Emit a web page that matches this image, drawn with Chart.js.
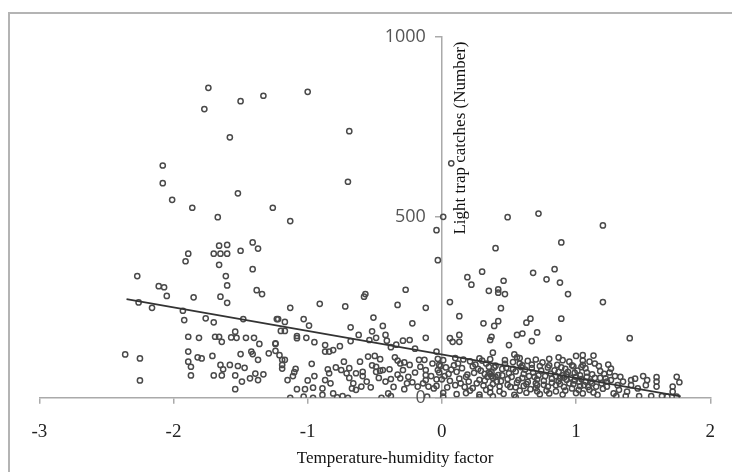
<!DOCTYPE html>
<html><head><meta charset="utf-8">
<script src="https://cdn.jsdelivr.net/npm/chart.js@4.4.1/dist/chart.umd.min.js"></script>
<style>
html,body{margin:0;padding:0;background:#fff;}
#wrap{position:relative;width:732px;height:472px;overflow:hidden;}
#frame{position:absolute;left:8px;top:12px;width:760px;height:500px;border-left:2px solid #b4b4b4;border-top:2px solid #b4b4b4;pointer-events:none;}
canvas{position:absolute;left:0;top:0;}
</style></head><body>
<div id="wrap"><div id="frame"></div><canvas id="c" width="732" height="472"></canvas></div>
<script>
const xTitle = 'Temperature-humidity factor';
const yTitle = 'Light trap catches (Number)';
const xTicks = [-3, -2, -1, 0, 1, 2];
const yTicks = [0, 500, 1000];
const trendX = [-2.35, 1.78];
const trendY = [273, 4];

const topPoints = [[-1.74,858],[-1.77,799],[-1.50,821],[-1.33,836],[-1.00,847],[-1.58,721],[-0.69,738],[-2.08,643],[-2.08,594],[-2.01,548],[-1.86,526],[-1.67,500],[-1.52,566],[-1.26,526],[-1.13,489],[-0.70,598],[0.07,649],[0.01,501],[-0.04,464],[0.49,500],[0.72,510],[1.20,477],[-0.03,381],[0.40,414],[0.89,430],[0.30,349],[0.68,346],[0.84,356]];

const leftPoints = [[-1.66,421],[-1.60,423],[-1.41,430],[-1.37,413],[-1.50,407],[-1.70,399],[-1.65,399],[-1.60,399],[-1.89,399],[-1.91,378],[-1.66,368],[-1.41,356],[-2.27,337],[-1.61,337],
[-1.60,311],[-2.11,309],[-2.07,306],[-1.38,298],[-1.34,287],[-2.05,282],[-1.85,278],[-1.65,280],[-1.60,263],[-2.26,264],[-2.16,249],[-1.93,241],[-1.92,215],[-1.76,220],[-1.70,209],[-1.48,218],[-1.23,218],[-1.89,169],[-1.81,166],[-1.69,169],[-1.66,169],[-1.64,155],[-1.54,183],[-1.57,167],[-1.53,166],[-1.46,166],[-1.40,166],[-1.36,149],[-1.24,149],[-1.89,128],[-2.36,120],[-2.25,109],[-1.82,112],[-1.79,109],[-1.71,116],[-1.50,121],[-1.42,128],[-1.41,121],[-1.29,123],[-1.24,130],[-1.37,105],[-1.89,100],[-1.87,86],[-1.65,91],[-1.58,91],[-1.63,79],[-1.52,88],[-1.47,83],[-1.87,62],[-1.70,62],[-1.64,62],[-1.54,62],[-1.39,67],[-1.33,65],[-1.43,54],[-1.37,49],[-1.49,45],[-2.25,48],[-1.54,24]];

const middlePoints = [[-1.13,249],[-0.91,260],[-0.72,253],[-0.57,287],[-0.58,280],[-0.27,299],[-0.33,257],[-0.12,249],[-1.22,218],[-1.17,210],[-1.03,218],[-0.99,200],[-1.20,185],[-1.17,185],[-1.08,171],[-1.08,165],[-1.01,166],[-0.95,154],[-0.87,146],[-0.87,128],[-0.84,128],[-0.81,132],[-0.76,143],[-0.68,195],[-0.68,157],[-0.62,174],[-0.54,160],[-0.52,184],[-0.51,222],[-0.49,166],[-0.44,199],[-0.42,174],[-0.41,158],[-0.38,140],[-0.34,147],[-0.29,158],[-0.24,160],[-0.22,206],[-0.12,166],[-0.20,136],[-0.13,105],[-1.24,151],[-1.21,118],[-1.19,105],[-1.17,105],[-1.19,91],[-1.19,81],[-1.09,80],[-1.10,71],[-1.11,60],[-1.15,49],[-0.97,94],[-0.95,60],[-1.00,48],[-1.08,24],[-1.02,24],[-0.96,28],[-1.03,3],[-1.13,0],[-0.96,0],[-0.89,8],[-0.89,26],[-0.87,49],[-0.83,40],[-0.84,68],[-0.85,79],[-0.79,84],[-0.75,77],[-0.69,82],[-0.64,68],[-0.59,60],[-0.59,72],[-0.67,26],[-0.64,22],[-0.60,31],[-0.53,29],[-0.81,12],[-0.78,1],[-0.74,5],[-0.70,0],[-0.73,100],[-0.69,55],[-0.71,68],[-0.55,114],[-0.50,116],[-0.46,107],[-0.49,86],[-0.49,72],[-0.46,75],[-0.44,77],[-0.39,79],[-0.38,52],[-0.35,112],[-0.33,103],[-0.31,95],[-0.28,98],[-0.24,91],[-0.29,77],[-0.31,54],[-0.25,58],[-0.22,43],[-0.28,24],[-0.40,12],[-0.38,5],[-0.45,0],[-0.17,105],[-0.16,86],[-0.12,77],[-0.12,63],[-0.12,49],[-0.18,31],[-0.10,31],[-0.06,26],[-0.04,51],[-0.03,77],[-0.02,91],[-0.11,3],[-0.04,128]];

const rightPoints = [[0.19,334],[0.22,313],[0.35,296],[0.42,300],[0.42,291],[0.47,287],[0.46,324],[0.78,328],[0.88,319],[0.94,287],[0.06,265],[0.13,226],[0.44,248],[0.42,212],[0.39,199],[0.31,206],[0.63,208],[0.66,219],[0.89,219],[0.71,181],[0.56,174],[0.60,178],[0.67,157],[0.87,165],[0.06,165],[0.13,174],[0.08,155],[0.13,155],[0.36,160],[0.37,169],[0.50,146],[0.54,120],[0.56,112],[0.38,125],[0.87,112],[1.00,116],[1.05,118],
[-0.03,108],[0.01,104],[0.10,110],[0.16,106],[0.21,101],[0.28,109],[0.30,103],[0.36,107],[0.47,104],[0.53,99],[0.58,110],[0.64,102],[0.70,106],[0.75,98],[0.80,108],[0.90,104],[0.95,100],[1.05,103],
[-0.01,88],[0.03,84],[0.09,90],[0.15,82],[0.23,87],[0.27,80],[0.35,86],[0.40,89],[0.48,83],[0.59,85],[0.60,90],[0.67,82],[0.73,88],[0.79,84],[0.86,91],[0.92,80],[0.98,87],[1.04,85],
[-0.02,70],[0.05,66],[0.11,72],[0.19,64],[0.24,69],[0.32,66],[0.37,71],[0.42,63],[0.50,68],[0.55,73],[0.61,66],[0.68,70],[0.72,62],[0.81,67],[0.87,72],[0.93,65],[0.99,69],
[0.00,51],[0.06,47],[0.13,53],[0.20,45],[0.28,50],[0.32,48],[0.38,55],[0.44,46],[0.49,52],[0.57,49],[0.64,44],[0.71,51],[0.76,47],[0.82,53],[0.87,46],[0.93,50],[0.99,48],[1.04,52],
[-0.04,33],[0.04,29],[0.10,35],[0.17,30],[0.23,27],[0.31,34],[0.36,28],[0.43,32],[0.49,36],[0.55,29],[0.61,33],[0.70,27],[0.79,31],[0.85,35],[0.91,30],[0.97,26],[1.03,32],
[0.01,14],[0.11,10],[0.18,13],[0.28,9],[0.36,15],[0.46,11],[0.54,8],[0.63,14],[0.73,10],[0.80,12],[0.90,9],[1.00,13],
[0.01,3],[0.28,2],[0.38,4],[0.55,2],
[0.35,70],[0.36,66],[0.37,60],[0.40,58],[0.45,80],[0.70,40],[0.71,35],[0.85,60],[0.88,55],[0.90,62],[0.95,40],[1.00,58],[1.02,45],[0.33,95],[0.58,95],[0.65,60]];

const farRightPoints = [[1.20,265],[1.40,165],[1.13,117],[1.26,81],[1.18,74],[1.05,91],[1.07,82],[1.08,58],[1.44,53],[1.50,60],[1.53,49],[1.60,57],[1.60,45],[1.35,45],[1.75,58],[1.77,43],[1.72,31],[1.72,17],[1.60,31],[1.52,35],[1.46,26],[1.41,35],[1.38,17],[1.32,22],[1.28,12],[1.23,31],[1.22,54],[1.19,40],[1.15,31],[1.11,45],[1.10,22],[1.06,35],[1.05,12],[1.16,8],[1.47,5],[1.56,5],[1.64,5],[1.68,3],[1.75,3],[1.30,5],[1.37,5],[1.41,49],[1.26,49],[1.31,35],
[1.08,70],[1.12,65],[1.14,55],[1.17,88],[1.21,66],[1.25,70],[1.29,60],[1.33,58],[1.10,100],[1.14,95],[1.24,92]];

const denseBandPoints = [[0.02,60],[0.07,78],[0.12,95],[0.14,40],[0.18,58],[0.21,20],[0.25,92],[0.26,40],[0.29,75],[0.33,22],[0.34,58],[0.38,38],[0.39,84],[0.41,45],[0.43,18],[0.45,62],[0.47,94],[0.51,30],[0.52,58],[0.53,80],[0.56,42],[0.58,20],[0.60,55],[0.62,78],[0.63,38],[0.66,24],[0.67,92],[0.69,58],[0.71,18],[0.74,75],[0.76,36],[0.77,60],[0.78,20],[0.80,90],[0.82,42],[0.84,76],[0.85,18],[0.88,38],[0.89,84],[0.91,56],[0.92,20],[0.94,72],[0.96,56],[0.97,90],[0.98,38],[1.01,75],[1.02,22],[1.03,62],[1.07,45],[1.09,30],[1.12,40],[1.13,15],[1.18,55],[1.20,25],[1.23,45],
[-0.08,60],[-0.07,95],[-0.14,40],[-0.20,70],[-0.26,40],[-0.33,64],[-0.36,30],[-0.42,45],[-0.47,55],[-0.52,90],[-0.56,45],[-0.61,100],[-0.66,40]];

const allPoints = [].concat(topPoints, leftPoints, middlePoints, rightPoints, farRightPoints, denseBandPoints)
  .map(p => ({x: p[0], y: p[1]}));

const yLabelGap = 16;

const titlePlugin = {
  id: 'axisTitles',
  beforeDraw(chart) {
    // keep the y tick labels clear of the y-axis tick marks
    chart.scales.y.getLabelItems().forEach(it => {
      if (!it._shifted) { it.options.translation[0] -= yLabelGap; it._shifted = true; }
    });
  },
  afterDraw(chart) {
    const {ctx, scales: {x}} = chart;
    ctx.save();
    ctx.fillStyle = '#111';
    ctx.font = '17px "Liberation Serif"';
    ctx.textAlign = 'center';
    ctx.textBaseline = 'middle';
    ctx.fillText(xTitle, 395, 459);
    ctx.translate(x.getPixelForValue(0) + 19, 138);
    ctx.rotate(-Math.PI / 2);
    ctx.fillText(yTitle, 0, 0);
    ctx.restore();
  }
};

new Chart(document.getElementById('c'), {
  type: 'scatter',
  data: {
    datasets: [
      {
        type: 'line',
        data: trendX.map((v, i) => ({x: v, y: trendY[i]})),
        borderColor: '#333',
        borderWidth: 1.7,
        pointRadius: 0,
        fill: false
      },
      {
        data: allPoints,
        pointRadius: 2.6,
        pointHoverRadius: 2.6,
        borderWidth: 1.5,
        borderColor: '#4a4a4a',
        backgroundColor: 'rgba(255,255,255,0)'
      }
    ]
  },
  options: {
    responsive: false,
    animation: false,
    devicePixelRatio: 1,
    layout: {padding: {left: 39.3, right: 16.7, top: 36.5, bottom: 0}},
    plugins: {legend: {display: false}, tooltip: {enabled: false}},
    scales: {
      x: {
        type: 'linear', position: 'bottom', min: -3, max: 2,
        afterBuildTicks(s) { s.ticks = xTicks.map(v => ({value: v})); },
        ticks: {padding: 17, color: '#222', font: {family: 'Liberation Serif', size: 19}},
        grid: {drawOnChartArea: false, tickLength: 6, color: '#aaa', lineWidth: 1.5},
        border: {color: '#aaa', width: 1.5},
        afterFit(s) { s.height = 74.2; }
      },
      y: {
        type: 'linear', position: {x: 0}, min: 0, max: 1000,
        afterBuildTicks(s) { s.ticks = yTicks.map(v => ({value: v})); },
        ticks: {color: '#555', font: {family: 'Open Sans', size: 18}, callback: v => String(v)},
        grid: {drawOnChartArea: false, tickLength: 6, color: '#aaa', lineWidth: 1.5},
        border: {color: '#aaa', width: 1.5},
        afterFit(s) { s.width = 0; }
      }
    }
  },
  plugins: [titlePlugin]
});
</script>
</body></html>
